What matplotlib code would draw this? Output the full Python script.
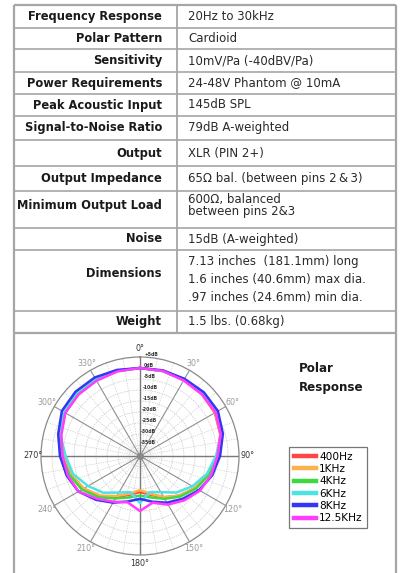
import numpy as np
import matplotlib
matplotlib.use("Agg")
import matplotlib.pyplot as plt
from matplotlib.lines import Line2D

# ---------------- data ----------------
spec_labels = ["Frequency Response", "Polar Pattern", "Sensitivity", "Power Requirements",
               "Peak Acoustic Input", "Signal-to-Noise Ratio", "Output", "Output Impedance",
               "Minimum Output Load", "Noise", "Dimensions", "Weight"]
spec_values = ["20Hz to 30kHz", "Cardioid", "10mV/Pa (-40dBV/Pa)", "24-48V Phantom @ 10mA",
               "145dB SPL", "79dB A-weighted", "XLR (PIN 2+)", "65Ω bal. (between pins 2\u2009&\u20093)",
               "600Ω, balanced\nbetween pins 2&3", "15dB (A-weighted)",
               "7.13 inches  (181.1mm) long\n1.6 inches (40.6mm) max dia.\n.97 inches (24.6mm) min dia.",
               "1.5 lbs. (0.68kg)"]

angles_deg = [0, 15, 30, 45, 60, 75, 90, 105, 120, 135, 150, 165, 180,
              195, 210, 225, 240, 255, 270, 285, 300, 315, 330, 345]
series_names = ["400Hz", "1KHz", "4KHz", "6KHz", "8KHz", "12.5KHz"]
db_400 = [0, 0, -0.2, -0.2, -0.7, -2.2, -5.0, -8.0, -11.0, -14.5, -18.3, -21.8, -23.6,
          -21.8, -18.5, -14.3, -10.3, -7.5, -5.0, -2.7, -0.7, -0.2, -0.2, 0]
db_1k = [0, 0, -0.1, 0, -0.5, -2.0, -5.0, -8.0, -11.0, -14.5, -18.5, -22.3, -24.5,
         -22.3, -19.0, -14.5, -10.5, -7.5, -5.0, -2.5, -0.5, 0, 0, 0]
db_4k = [0, 0, 0, 0.2, 0, -1.8, -4.5, -7.5, -10.5, -14.0, -17.5, -20.5, -22.0,
         -20.5, -17.7, -13.5, -9.5, -6.8, -4.5, -2.0, 0, 0.3, 0.3, 0]
db_6k = [0, 0, 0.2, 0.5, 0.3, -1.5, -5.5, -8.5, -12.5, -16.5, -21.0, -23.0, -18.6,
         -23.0, -20.8, -16.4, -12.7, -8.5, -6.2, -2.5, 0.3, 0.8, 0.6, 0.2]
db_8k = [0, 0.3, 0.5, 1.0, 0.9, -1.0, -3.6, -6.0, -9.0, -12.5, -15.5, -18.5, -20.5,
         -18.6, -15.5, -11.8, -7.7, -5.5, -3.6, -1.5, 1.0, 1.4, 1.2, 0.5]
db_12k = [0, 0, -0.3, -0.3, -0.3, -2.0, -4.8, -6.5, -8.5, -11.5, -14.5, -18.0, -15.0,
          -18.2, -16.0, -12.5, -7.7, -6.0, -4.8, -3.0, -0.8, -0.5, -0.5, -0.2]
series_colors = ["#ff4545", "#ffb04e", "#3fd83f", "#4ee3e3", "#3535f5", "#ff3cff"]

ring_db = [5, 0, -5, -10, -15, -20, -25, -30, -35]
ring_labels = ["+5dB", "0dB", "-5dB", "-10dB", "-15dB", "-20dB", "-25dB", "-30dB", "-35dB"]
angle_ticks = [0, 30, 60, 90, 120, 150, 180, 210, 240, 270, 300, 330]

# ---------------- figure ----------------
W, H = 402, 573
fig = plt.figure(figsize=(W / 100, H / 100), dpi=100)
fig.patch.set_facecolor("white")
bg = fig.add_axes([0, 0, 1, 1])
bg.set_xlim(0, W)
bg.set_ylim(H, 0)
bg.axis("off")

FS_B = 8.3
FS_V = 8.5
line_c = "#a6a6a6"
x_left, x_div, x_right = 14, 177, 396.5
row_edges = [5, 28, 49, 72, 94, 116, 140, 166, 191, 228, 250, 311, 333]
label_dy = [0, 0, 0, 0, 0, 0, 0, 0, -4, 0, -7, 0]
value_dy = [0, 0, 0, 0, 0, 0, 0, 0, -4, 0, -1, 0]
value_ls = [1.1] * 8 + [0.95, 1.1, 1.55, 1.1]
bottom_box = 575

# table frame
bg.plot([x_left, x_left], [row_edges[0], bottom_box], color=line_c, lw=1.6, solid_capstyle="butt")
bg.plot([x_right, x_right], [row_edges[0], bottom_box], color=line_c, lw=1.6, solid_capstyle="butt")
bg.plot([x_div, x_div], [row_edges[0], row_edges[-1]], color=line_c, lw=1.3)
for i, y in enumerate(row_edges):
    lw = 1.6 if i in (0, len(row_edges) - 1) else 1.2
    bg.plot([x_left, x_right], [y, y], color=line_c, lw=lw, solid_capstyle="butt")

for i, (lab, val) in enumerate(zip(spec_labels, spec_values)):
    yc = (row_edges[i] + row_edges[i + 1]) / 2
    bg.text(162, yc + label_dy[i], lab, ha="right", va="center", fontsize=FS_B,
            fontweight="bold", color="#1a1a1a")
    bg.text(188, yc + value_dy[i], val, ha="left", va="center", fontsize=FS_V,
            color="#2a2a2a", linespacing=value_ls[i])

bg.text(299, 368, "Polar", ha="left", va="center", fontsize=FS_B + 0.3, fontweight="bold", color="#1a1a1a")
bg.text(299, 387, "Response", ha="left", va="center", fontsize=FS_B + 0.3, fontweight="bold", color="#1a1a1a")

# ---------------- polar ----------------
cx, cy, R = 140, 456, 99
ax = fig.add_axes([(cx - R) / W, (H - cy - R) / H, 2 * R / W, 2 * R / H], projection="polar")
ax.set_facecolor("none")
ax.set_theta_zero_location("N")
ax.set_theta_direction(-1)
ax.set_ylim(-40, 5)
ax.grid(False)
ax.set_xticks([])
ax.set_yticks([])
ax.spines["polar"].set_color("#8a8a8a")
ax.spines["polar"].set_linewidth(0.9)

th_full = np.linspace(0, 2 * np.pi, 361)
for rd in ring_db[1:]:
    ax.plot(th_full, np.full_like(th_full, rd), color="#c4c4c4", lw=0.5, ls=(0, (2, 1.5)), zorder=1)
for a in range(0, 360, 10):
    if a % 30 == 0:
        continue
    ax.plot([np.deg2rad(a)] * 2, [-40, 5], color="#cfcfcf", lw=0.5, ls=(0, (2, 1.5)), zorder=1)
for a in angle_ticks:
    main = a % 90 == 0
    ax.plot([np.deg2rad(a)] * 2, [-40, 5], color="#7a7a7a" if main else "#8f8f8f",
            lw=1.0 if main else 0.8, zorder=1.5)
ax.plot([0], [-40], marker="o", ms=4, color="#888888", zorder=2)

for a in angle_ticks:
    dark = a % 90 == 0
    ax.text(np.deg2rad(a), 8.7, f"{a}°", ha="center", va="center", fontsize=5.8,
            color="#333333" if dark else "#9a9a9a")

for rd, lab in zip(ring_db, ring_labels):
    ax.text(np.deg2rad(2.5), rd + 1.2, lab, ha="left", va="center", fontsize=3.3,
            fontweight="bold", color="#333333", zorder=3)

all_db = [db_400, db_1k, db_4k, db_6k, db_8k, db_12k]
th = np.deg2rad(angles_deg + [360])
for name, vals, col in zip(series_names, all_db, series_colors):
    ax.plot(th, vals + [vals[0]], color=col, lw=1.8, label=name, zorder=4)

handles = [Line2D([0], [0], color=c, lw=3.2) for c in series_colors]
leg = fig.legend(handles, series_names, loc="upper left",
                 bbox_to_anchor=(289 / W, 1 - 447 / H), fontsize=7.6,
                 frameon=True, fancybox=False, handlelength=2.1, handletextpad=0.3,
                 labelspacing=0.22, borderpad=0.45, borderaxespad=0)
leg.get_frame().set_edgecolor("#555555")
leg.get_frame().set_linewidth(0.9)

fig.savefig("out.png", dpi=100, facecolor="white")
